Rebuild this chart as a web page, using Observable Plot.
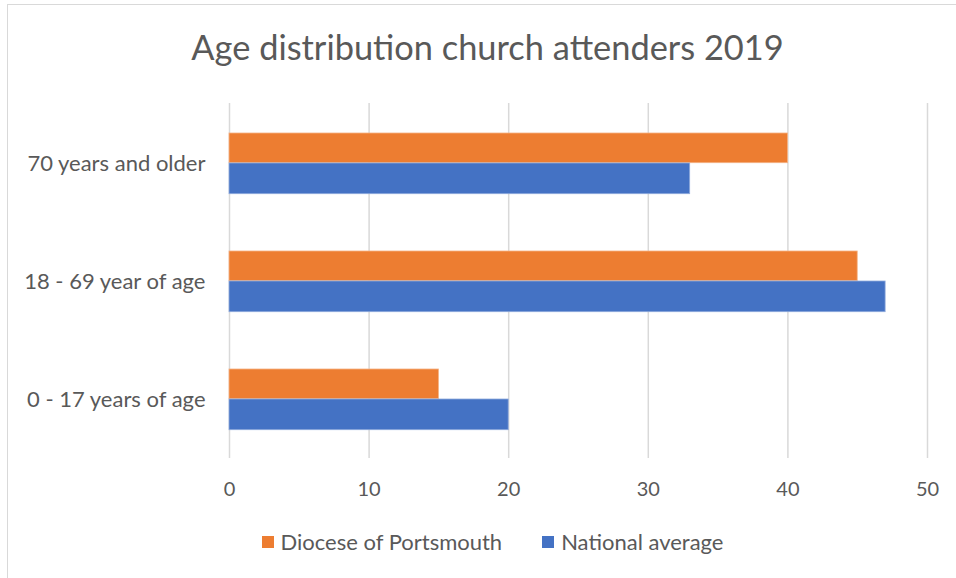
<!DOCTYPE html>
<html>
<head>
<meta charset="utf-8">
<script src="https://cdn.jsdelivr.net/npm/d3@7"></script>
<script src="https://cdn.jsdelivr.net/npm/@observablehq/plot@0.6"></script>
<style>
  html, body { margin: 0; padding: 0; background: #fff; overflow: hidden; }
  #wrap { position: relative; width: 956px; height: 578px; font-family: Lato, "Open Sans", sans-serif; color: #595959; }
  #frame { position: absolute; left: 7px; top: 4px; width: 1200px; height: 1200px; border: 1.5px solid #d9d9d9; box-sizing: border-box; }
  #title { position: absolute; left: 0; width: 975px; top: 27px; text-align: center; font-size: 34.4px; line-height: 40px; color: #595959; white-space: nowrap; }
  #chart { position: absolute; left: 0; top: 0; }
  #legend { position: absolute; left: 0; width: 985px; top: 529px; display: flex; justify-content: center; align-items: center; font-size: 22px; line-height: 26px; color: #595959; white-space: nowrap; }
  .sw { display: inline-block; width: 12px; height: 12px; margin-right: 7px; }
  .item { display: flex; align-items: center; margin: 0 20px; }
</style>
</head>
<body>
<div id="wrap">
  <div id="frame"></div>
  <div id="title"></div>
  <div id="chart"></div>
  <div id="legend"></div>
</div>
<script>
const title = "Age distribution church attenders 2019";
const categories = ["70 years and older", "18 - 69 year of age", "0 - 17 years of age"];
const seriesNames = ["Diocese of Portsmouth", "National average"];
const seriesColors = ["#ED7D31", "#4472C4"];
const diocese = [40, 45, 15];
const national = [33, 47, 20];
const xTicks = [0, 10, 20, 30, 40, 50];

const rows = [];
categories.forEach((c, i) => {
  rows.push({category: c, series: seriesNames[0], value: diocese[i]});
  rows.push({category: c, series: seriesNames[1], value: national[i]});
});

document.getElementById("title").textContent = title;

const chart = Plot.plot({
  width: 956,
  height: 520,
  marginLeft: 229,
  marginRight: 29,
  marginTop: 103,
  marginBottom: 62,
  style: {fontFamily: "Lato, 'Open Sans', sans-serif", fontSize: "20px", color: "#595959", background: "transparent", overflow: "visible"},
  x: {domain: [0, 50], ticks: xTicks, tickSize: 0, tickPadding: 23, label: null},
  y: {domain: categories, padding: 0, tickSize: 0, tickPadding: 24, label: null},
  color: {domain: seriesNames, range: seriesColors},
  marks: [
    Plot.gridX(xTicks, {stroke: "#d9d9d9", strokeOpacity: 1, strokeWidth: 1.5}),
    Plot.barX(rows.filter(d => d.series === seriesNames[0]), {
      x: "value", y: "category", fill: "series",
      insetTop: 29, insetBottom: 59.3, stroke: "#f4b183", strokeWidth: 0.8
    }),
    Plot.barX(rows.filter(d => d.series === seriesNames[1]), {
      x: "value", y: "category", fill: "series",
      insetTop: 59, insetBottom: 28.3, stroke: "#8faadc", strokeWidth: 0.8
    }),
    Plot.axisX({ticks: xTicks, tickSize: 0, tickPadding: 23, fontSize: 20, fill: "#595959"}),
    Plot.axisY({tickSize: 0, tickPadding: 24, fontSize: 22, fill: "#595959"})
  ]
});
document.getElementById("chart").appendChild(chart);

const legend = document.getElementById("legend");
seriesNames.forEach((s, i) => {
  const it = document.createElement("span");
  it.className = "item";
  const sw = document.createElement("span");
  sw.className = "sw";
  sw.style.background = seriesColors[i];
  const t = document.createElement("span");
  t.textContent = s;
  it.appendChild(sw);
  it.appendChild(t);
  legend.appendChild(it);
});
</script>
</body>
</html>
